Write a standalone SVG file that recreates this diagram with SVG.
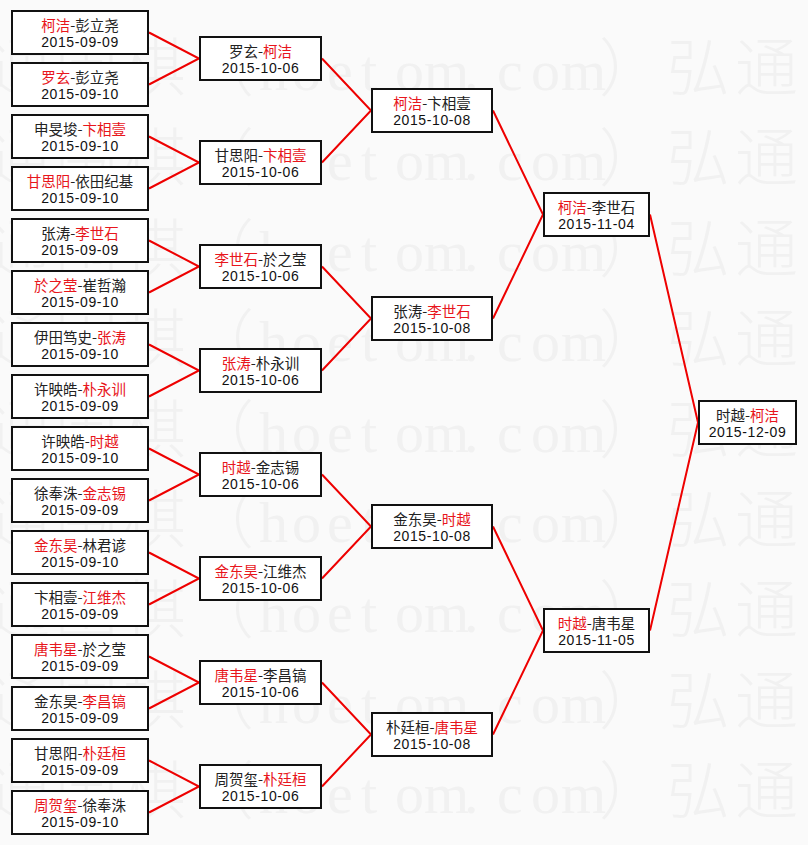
<svg xmlns="http://www.w3.org/2000/svg" width="808" height="845" viewBox="0 0 808 845">
<style>
.bg{fill:#fafafa}
.wm{fill:#f1f1f1}
.wc{font-family:"Noto Sans CJK SC",sans-serif;font-size:63px;font-weight:300}
.wl{font-family:"Liberation Serif",serif;font-size:58px}
.node rect{fill:#fff;stroke:#111;stroke-width:2}
.n{font-family:"Noto Sans CJK SC","Noto Sans CJK TC",sans-serif;font-size:14.5px;fill:#222;text-anchor:middle}
.d{font-family:"Liberation Sans",sans-serif;font-size:14px;letter-spacing:0.6px;fill:#111;text-anchor:middle}
.w{fill:#e8161c}
#connectors polyline{fill:none;stroke:#e00;stroke-width:2}
</style>
<defs>
<text id="wm" class="wm"><tspan class="wc" x="-81 -13 55 123 191">弘通围棋（</tspan><tspan class="wl" x="259 292 327 361 395 424 464 497 531 561">hoetom.com</tspan><tspan class="wc" x="599 667 735 803">）弘通围</tspan></text>
</defs>
<rect class="bg" x="0" y="0" width="808" height="845"/>
<g id="watermark">
<use href="#wm" y="90"/>
<use href="#wm" y="180"/>
<use href="#wm" y="271"/>
<use href="#wm" y="361"/>
<use href="#wm" y="452"/>
<use href="#wm" y="542"/>
<use href="#wm" y="632"/>
<use href="#wm" y="723"/>
<use href="#wm" y="813"/>
</g>
<g id="connectors">
<polyline points="149,32.5 199,58.5 149,84.5"/>
<polyline points="149,136.5 199,162.5 149,188.5"/>
<polyline points="149,240.5 199,266.5 149,292.5"/>
<polyline points="149,344.5 199,370.5 149,396.5"/>
<polyline points="149,448.5 199,474.5 149,500.5"/>
<polyline points="149,552.5 199,578.5 149,604.5"/>
<polyline points="149,656.5 199,682.5 149,708.5"/>
<polyline points="149,760.5 199,786.5 149,812.5"/>
<polyline points="322,58.5 371,110.5 322,162.5"/>
<polyline points="322,266.5 371,318.5 322,370.5"/>
<polyline points="322,474.5 371,526.5 322,578.5"/>
<polyline points="322,682.5 371,734.5 322,786.5"/>
<polyline points="493,110.5 543,214.5 493,318.5"/>
<polyline points="493,526.5 543,630.5 493,734.5"/>
<polyline points="650,214.5 698,422.5 650,630.5"/>
</g>
<g id="r1-1" class="node"><rect x="12" y="11" width="136" height="43"/><text class="n" x="80" y="31"><tspan class="w">柯洁</tspan>-彭立尧</text><text class="d" x="80" y="47">2015-09-09</text></g>
<g id="r1-2" class="node"><rect x="12" y="63" width="136" height="43"/><text class="n" x="80" y="83"><tspan class="w">罗玄</tspan>-彭立尧</text><text class="d" x="80" y="99">2015-09-10</text></g>
<g id="r1-3" class="node"><rect x="12" y="115" width="136" height="43"/><text class="n" x="80" y="135">申旻埈-<tspan class="w">卞相壹</tspan></text><text class="d" x="80" y="151">2015-09-10</text></g>
<g id="r1-4" class="node"><rect x="12" y="167" width="136" height="43"/><text class="n" x="80" y="187"><tspan class="w">甘思阳</tspan>-依田纪基</text><text class="d" x="80" y="203">2015-09-10</text></g>
<g id="r1-5" class="node"><rect x="12" y="219" width="136" height="43"/><text class="n" x="80" y="239">张涛-<tspan class="w">李世石</tspan></text><text class="d" x="80" y="255">2015-09-09</text></g>
<g id="r1-6" class="node"><rect x="12" y="271" width="136" height="43"/><text class="n" x="80" y="291"><tspan class="w">於之莹</tspan>-崔哲瀚</text><text class="d" x="80" y="307">2015-09-10</text></g>
<g id="r1-7" class="node"><rect x="12" y="323" width="136" height="43"/><text class="n" x="80" y="343">伊田笃史-<tspan class="w">张涛</tspan></text><text class="d" x="80" y="359">2015-09-10</text></g>
<g id="r1-8" class="node"><rect x="12" y="375" width="136" height="43"/><text class="n" x="80" y="395">许映皓-<tspan class="w">朴永训</tspan></text><text class="d" x="80" y="411">2015-09-09</text></g>
<g id="r1-9" class="node"><rect x="12" y="427" width="136" height="43"/><text class="n" x="80" y="447">许映皓-<tspan class="w">时越</tspan></text><text class="d" x="80" y="463">2015-09-10</text></g>
<g id="r1-10" class="node"><rect x="12" y="479" width="136" height="43"/><text class="n" x="80" y="499">徐奉洙-<tspan class="w">金志锡</tspan></text><text class="d" x="80" y="515">2015-09-09</text></g>
<g id="r1-11" class="node"><rect x="12" y="531" width="136" height="43"/><text class="n" x="80" y="551"><tspan class="w">金东昊</tspan>-林君谚</text><text class="d" x="80" y="567">2015-09-10</text></g>
<g id="r1-12" class="node"><rect x="12" y="583" width="136" height="43"/><text class="n" x="80" y="603">卞相壹-<tspan class="w">江维杰</tspan></text><text class="d" x="80" y="619">2015-09-09</text></g>
<g id="r1-13" class="node"><rect x="12" y="635" width="136" height="43"/><text class="n" x="80" y="655"><tspan class="w">唐韦星</tspan>-於之莹</text><text class="d" x="80" y="671">2015-09-09</text></g>
<g id="r1-14" class="node"><rect x="12" y="687" width="136" height="43"/><text class="n" x="80" y="707">金东昊-<tspan class="w">李昌镐</tspan></text><text class="d" x="80" y="723">2015-09-09</text></g>
<g id="r1-15" class="node"><rect x="12" y="739" width="136" height="43"/><text class="n" x="80" y="759">甘思阳-<tspan class="w">朴廷桓</tspan></text><text class="d" x="80" y="775">2015-09-09</text></g>
<g id="r1-16" class="node"><rect x="12" y="791" width="136" height="43"/><text class="n" x="80" y="811"><tspan class="w">周贺玺</tspan>-徐奉洙</text><text class="d" x="80" y="827">2015-09-10</text></g>
<g id="r2-1" class="node"><rect x="200" y="37" width="121" height="43"/><text class="n" x="260.5" y="57">罗玄-<tspan class="w">柯洁</tspan></text><text class="d" x="260.5" y="73">2015-10-06</text></g>
<g id="r2-2" class="node"><rect x="200" y="141" width="121" height="43"/><text class="n" x="260.5" y="161">甘思阳-<tspan class="w">卞相壹</tspan></text><text class="d" x="260.5" y="177">2015-10-06</text></g>
<g id="r2-3" class="node"><rect x="200" y="245" width="121" height="43"/><text class="n" x="260.5" y="265"><tspan class="w">李世石</tspan>-於之莹</text><text class="d" x="260.5" y="281">2015-10-06</text></g>
<g id="r2-4" class="node"><rect x="200" y="349" width="121" height="43"/><text class="n" x="260.5" y="369"><tspan class="w">张涛</tspan>-朴永训</text><text class="d" x="260.5" y="385">2015-10-06</text></g>
<g id="r2-5" class="node"><rect x="200" y="453" width="121" height="43"/><text class="n" x="260.5" y="473"><tspan class="w">时越</tspan>-金志锡</text><text class="d" x="260.5" y="489">2015-10-06</text></g>
<g id="r2-6" class="node"><rect x="200" y="557" width="121" height="43"/><text class="n" x="260.5" y="577"><tspan class="w">金东昊</tspan>-江维杰</text><text class="d" x="260.5" y="593">2015-10-06</text></g>
<g id="r2-7" class="node"><rect x="200" y="661" width="121" height="43"/><text class="n" x="260.5" y="681"><tspan class="w">唐韦星</tspan>-李昌镐</text><text class="d" x="260.5" y="697">2015-10-06</text></g>
<g id="r2-8" class="node"><rect x="200" y="765" width="121" height="43"/><text class="n" x="260.5" y="785">周贺玺-<tspan class="w">朴廷桓</tspan></text><text class="d" x="260.5" y="801">2015-10-06</text></g>
<g id="r3-1" class="node"><rect x="372" y="89" width="120" height="43"/><text class="n" x="432" y="109"><tspan class="w">柯洁</tspan>-卞相壹</text><text class="d" x="432" y="125">2015-10-08</text></g>
<g id="r3-2" class="node"><rect x="372" y="297" width="120" height="43"/><text class="n" x="432" y="317">张涛-<tspan class="w">李世石</tspan></text><text class="d" x="432" y="333">2015-10-08</text></g>
<g id="r3-3" class="node"><rect x="372" y="505" width="120" height="43"/><text class="n" x="432" y="525">金东昊-<tspan class="w">时越</tspan></text><text class="d" x="432" y="541">2015-10-08</text></g>
<g id="r3-4" class="node"><rect x="372" y="713" width="120" height="43"/><text class="n" x="432" y="733">朴廷桓-<tspan class="w">唐韦星</tspan></text><text class="d" x="432" y="749">2015-10-08</text></g>
<g id="r4-1" class="node"><rect x="544" y="193" width="105" height="43"/><text class="n" x="596.5" y="213"><tspan class="w">柯洁</tspan>-李世石</text><text class="d" x="596.5" y="229">2015-11-04</text></g>
<g id="r4-2" class="node"><rect x="544" y="609" width="105" height="43"/><text class="n" x="596.5" y="629"><tspan class="w">时越</tspan>-唐韦星</text><text class="d" x="596.5" y="645">2015-11-05</text></g>
<g id="final" class="node"><rect x="699" y="401" width="97" height="43"/><text class="n" x="747.5" y="421">时越-<tspan class="w">柯洁</tspan></text><text class="d" x="747.5" y="437">2015-12-09</text></g>
</svg>
